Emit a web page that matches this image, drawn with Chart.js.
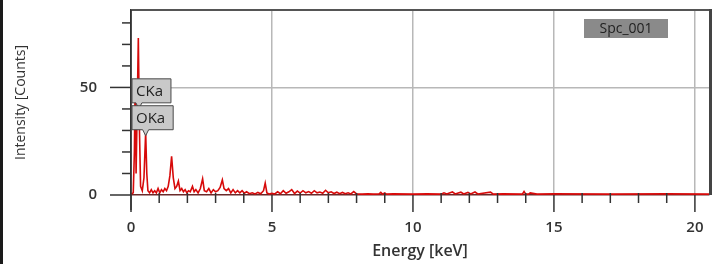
<!DOCTYPE html>
<html lang="en">
<head>
    <meta charset="UTF-8">
    <title>EDS Spectrum</title>
    <script src="https://cdnjs.cloudflare.com/ajax/libs/Chart.js/4.4.0/chart.umd.min.js"></script>
    <style>
        body { margin: 0; background: #fff; }
        #wrap { border-left: 3px solid #1a1a1a; width: 714px; height: 264px; }
    </style>
</head>
<body>
    <div id="wrap">
        <canvas id="spectrumChart" width="714" height="264"></canvas>
    </div>

    <script>
        // spectrum
        const energy = [
            0.00, 0.08, 0.12, 0.15, 0.18, 0.22, 0.26, 0.30, 0.34, 0.40,
            0.46, 0.52, 0.56, 0.60, 0.66, 0.72, 0.78, 0.84, 0.90, 0.96,
            1.02, 1.08, 1.14, 1.20, 1.26, 1.32, 1.38, 1.44, 1.50, 1.56,
            1.62, 1.68, 1.74, 1.80, 1.86, 1.92, 1.98, 2.04, 2.10, 2.18,
            2.24, 2.30, 2.38, 2.46, 2.54, 2.60, 2.68, 2.76, 2.84, 2.92,
            3.00, 3.08, 3.16, 3.24, 3.30, 3.38, 3.46, 3.54, 3.62, 3.70,
            3.78, 3.86, 3.94, 4.02, 4.10, 4.20, 4.30, 4.40, 4.50, 4.60,
            4.70, 4.76, 4.82, 4.90, 5.00, 5.10, 5.20, 5.30, 5.40, 5.50,
            5.60, 5.70, 5.80, 5.90, 6.00, 6.10, 6.20, 6.30, 6.40, 6.50,
            6.60, 6.70, 6.80, 6.90, 7.00, 7.10, 7.20, 7.30, 7.40, 7.50,
            7.60, 7.70, 7.80, 7.90, 8.00, 8.20, 8.40, 8.60, 8.80, 8.86,
            8.92, 9.00, 9.06, 9.30, 10.0, 10.5, 11.0, 11.10, 11.20, 11.40,
            11.50, 11.70, 11.80, 11.95, 12.05, 12.20, 12.30, 12.75, 12.85, 13.20,
            13.88, 13.94, 14.00, 14.10, 14.16, 14.40, 15.0, 17.0, 19.0, 20.5
        ];
        const counts = [
            0.5, 1, 20, 54, 10, 40, 73, 30, 4, 2,
            8, 29, 10, 2, 1, 2.5, 1, 2, 1, 3,
            1, 2.5, 1.5, 3, 2, 4, 9, 18, 8, 3,
            4, 6.5, 2, 3, 1.5, 2.5, 1, 2, 1.5, 4,
            1.5, 2.5, 1, 3, 7.5, 2, 1.5, 3, 1, 2.5,
            1.5, 2, 3.5, 7, 3, 2, 3, 1, 2.5, 1,
            2, 1, 2, 0.8, 1.5, 0.6, 1, 0.5, 1.2, 0.6,
            2, 5.5, 1, 0.5, 0.8, 0.5, 1.5, 0.6, 2, 0.8,
            1.5, 2.5, 0.7, 1.8, 0.9, 2, 1, 1.6, 0.8, 2,
            1, 1.4, 0.8, 2.2, 1, 1.5, 0.7, 1.3, 0.6, 1.2,
            0.6, 1, 0.5, 1.6, 0.5, 0.4, 0.5, 0.4, 0.5, 1.2,
            0.4, 1, 0.4, 0.5, 0.4, 0.5, 0.4, 1, 0.5, 1.4,
            0.5, 1.3, 0.5, 1.2, 0.5, 1.4, 0.5, 1.3, 0.4, 0.5,
            0.4, 1.6, 0.4, 0.4, 1, 0.4, 0.5, 0.4, 0.5, 0.4
        ];

        const xTicks = [0, 5, 10, 15, 20];
        const xMinorTicks = [1, 2, 3, 4, 6, 7, 8, 9, 11, 12, 13, 14, 16, 17, 18, 19];
        const yTicks = [0, 50];
        const yMinorTicks = [10, 20, 30, 40, 60, 70, 80];

        const peakLabels = ['CKa', 'OKa'];
        const peakEnergies = [0.28, 0.52];
        const peakLabelTops = [54, 41.5];   // counts level of the label box top
        const spectrumName = 'Spc_001';

        const FONT = "'Open Sans', sans-serif";

        // keep the plot box where the picture has it
        function noEdgePadding(scale) {
            scale.paddingTop = 0;
            scale.paddingBottom = 0;
            scale.paddingLeft = 0;
            scale.paddingRight = 0;
        }

        const frame = {
            id: 'frame',
            afterDraw(chart) {
                const ctx = chart.ctx;
                const a = chart.chartArea;
                const xs = chart.scales.x;
                const ys = chart.scales.y;
                ctx.save();

                // top edge + heavy right edge
                ctx.strokeStyle = '#555';
                ctx.lineWidth = 2;
                ctx.beginPath();
                ctx.moveTo(a.left, a.top);
                ctx.lineTo(a.right + 2, a.top);
                ctx.stroke();
                ctx.strokeStyle = '#444';
                ctx.lineWidth = 3;
                ctx.beginPath();
                ctx.moveTo(a.right + 1.5, a.top - 1);
                ctx.lineTo(a.right + 1.5, a.bottom);
                ctx.stroke();

                // y axis runs on below zero
                ctx.strokeStyle = '#333';
                ctx.lineWidth = 1.5;
                ctx.beginPath();
                ctx.moveTo(a.left, a.top);
                ctx.lineTo(a.left, a.bottom + 15);
                ctx.stroke();

                // tick marks
                ctx.lineWidth = 1.5;
                xTicks.forEach(v => {
                    const px = xs.getPixelForValue(v);
                    ctx.beginPath();
                    ctx.moveTo(px, a.bottom);
                    ctx.lineTo(px, a.bottom + 17);
                    ctx.stroke();
                });
                xMinorTicks.forEach(v => {
                    const px = xs.getPixelForValue(v);
                    ctx.beginPath();
                    ctx.moveTo(px, a.bottom - 2);
                    ctx.lineTo(px, a.bottom + 8);
                    ctx.stroke();
                });
                yTicks.forEach(v => {
                    const py = ys.getPixelForValue(v);
                    ctx.beginPath();
                    ctx.moveTo(a.left - 21, py);
                    ctx.lineTo(a.left, py);
                    ctx.stroke();
                });
                yMinorTicks.forEach(v => {
                    const py = ys.getPixelForValue(v);
                    ctx.beginPath();
                    ctx.moveTo(a.left - 9, py);
                    ctx.lineTo(a.left, py);
                    ctx.stroke();
                });

                // peak labels
                ctx.font = '500 15px ' + FONT;
                ctx.textBaseline = 'middle';
                peakLabels.forEach((txt, i) => {
                    const bx = a.left + 1;
                    const by = ys.getPixelForValue(peakLabelTops[i]);
                    const bw = ctx.measureText(txt).width + 12;
                    const bh = 24;
                    const px = xs.getPixelForValue(peakEnergies[i]);
                    ctx.fillStyle = '#c9c9c9';
                    ctx.strokeStyle = '#4a4a4a';
                    ctx.lineWidth = 1;
                    ctx.beginPath();
                    ctx.moveTo(bx, by);
                    ctx.lineTo(bx + bw, by);
                    ctx.lineTo(bx + bw, by + bh);
                    ctx.lineTo(px + 3, by + bh);
                    ctx.lineTo(px, by + bh + 6);
                    ctx.lineTo(px - 3, by + bh);
                    ctx.lineTo(bx, by + bh);
                    ctx.closePath();
                    ctx.fill();
                    ctx.stroke();
                    ctx.fillStyle = '#222';
                    ctx.fillText(txt, bx + 4, by + bh / 2 + 1);
                });

                // spectrum name tag
                ctx.font = '500 14px ' + FONT;
                const tagW = 84;
                const tx = a.right - 125;
                const ty = a.top + 9;
                ctx.fillStyle = '#8a8a8a';
                ctx.fillRect(tx, ty, tagW, 19);
                ctx.fillStyle = '#222';
                ctx.textAlign = 'center';
                ctx.fillText(spectrumName, tx + tagW / 2, ty + 10);

                ctx.restore();
            }
        };

        const spectrumCt = document.getElementById('spectrumChart');
        const spectrumChart = new Chart(spectrumCt, {
            type: 'line',
            data: {
                datasets: [
                    {
                        data: energy.map((e, i) => ({ x: e, y: counts[i] })),
                        borderColor: 'rgb(215, 10, 10)',
                        borderWidth: 1.6,
                        pointRadius: 0,
                        tension: 0,
                        fill: false
                    }
                ]
            },
            options: {
                responsive: false,
                animation: false,
                layout: {
                    padding: { left: 8, top: 10, right: 8, bottom: 3 }
                },
                plugins: {
                    legend: { display: false },
                    tooltip: { enabled: false }
                },
                scales: {
                    x: {
                        type: 'linear',
                        min: 0,
                        max: 20.5,
                        afterBuildTicks: scale => { scale.ticks = xTicks.map(v => ({ value: v })); },
                        afterFit: scale => { scale.height = 66; noEdgePadding(scale); },
                        ticks: {
                            padding: 24,
                            maxRotation: 0,
                            color: '#333',
                            font: { family: FONT, size: 15, weight: 600 }
                        },
                        grid: {
                            drawTicks: false,
                            color: c => c.tick && c.tick.value === 0 ? 'rgba(0,0,0,0)' : '#b8b8b8',
                            lineWidth: 1.5
                        },
                        border: { color: '#6a2a2a', width: 1.5 },
                        title: {
                            display: true,
                            text: 'Energy [keV]',
                            color: '#333',
                            font: { family: FONT, size: 16, weight: 600 },
                            padding: { top: 0, bottom: 0 }
                        }
                    },
                    y: {
                        min: 0,
                        max: 86,
                        afterBuildTicks: scale => { scale.ticks = yTicks.map(v => ({ value: v })); },
                        afterFit: scale => { scale.width = 120; noEdgePadding(scale); },
                        ticks: {
                            padding: 34,
                            color: '#333',
                            font: { family: FONT, size: 15, weight: 600 }
                        },
                        grid: {
                            drawTicks: false,
                            color: c => c.tick && c.tick.value === 0 ? 'rgba(0,0,0,0)' : '#b8b8b8',
                            lineWidth: 1.5
                        },
                        border: { color: '#333', width: 1.5 },
                        title: {
                            display: true,
                            text: 'Intensity [Counts]',
                            color: '#333',
                            font: { family: FONT, size: 14, weight: 500 },
                            padding: { top: 2, bottom: 0 }
                        }
                    }
                }
            },
            plugins: [frame]
        });
    </script>
</body>
</html>
